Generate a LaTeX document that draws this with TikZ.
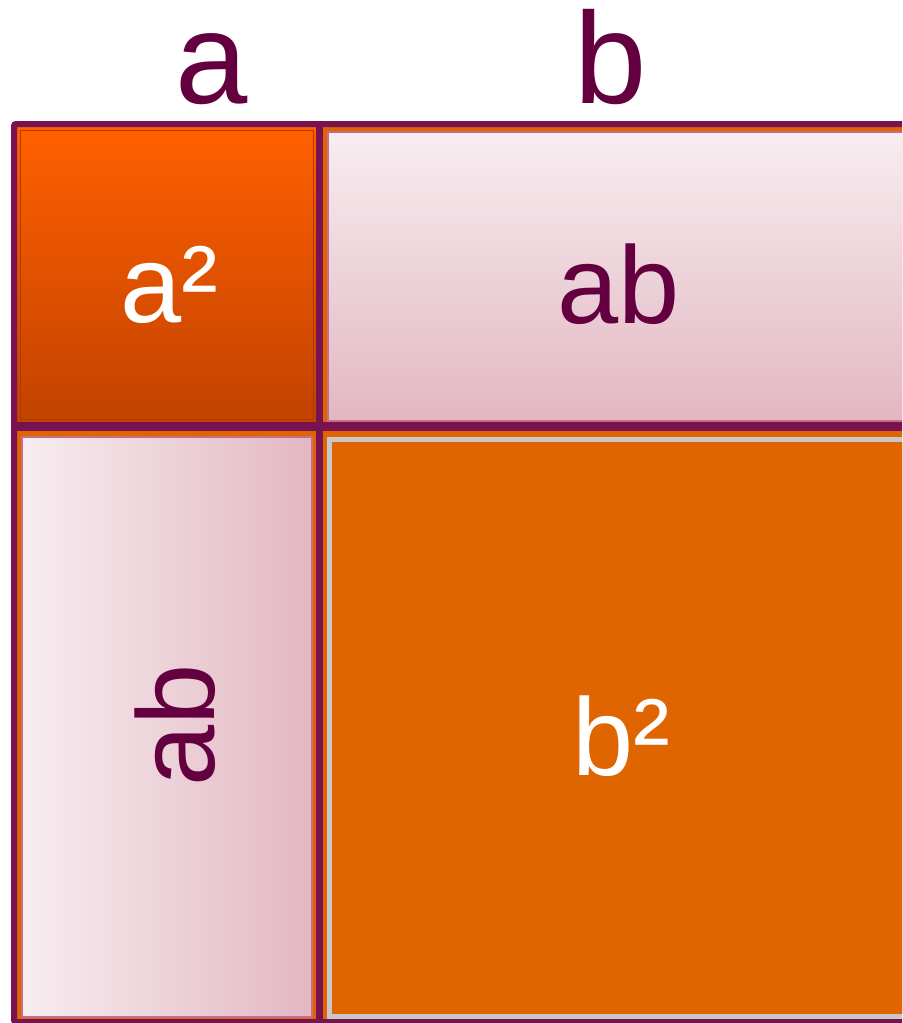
\documentclass[tikz,border=0pt]{standalone}
\usepackage{fontspec}
\setmainfont{Liberation Sans}
\usepackage{tikz}
\usetikzlibrary{positioning, calc}

\definecolor{aubergine}{RGB}{120,18,80}
\definecolor{txtpurple}{RGB}{100,0,64}
\definecolor{cellorange}{RGB}{224,100,0}
\definecolor{sqtop}{RGB}{255,96,0}
\definecolor{sqbottom}{RGB}{194,66,0}
\definecolor{pinklight}{RGB}{247,237,240}
\definecolor{pinkdark}{RGB}{227,183,194}
\definecolor{pinkedge}{RGB}{196,110,135}
\definecolor{greyedge}{RGB}{200,200,200}

\begin{document}
\begin{tikzpicture}[x=0.5pt, y=-0.5pt,
    lbl/.style={text=txtpurple, font=\fontsize{65}{70}\selectfont, inner sep=0pt, anchor=base},
    area/.style={font=\fontsize{55}{60}\selectfont, inner sep=0pt, anchor=base},
    grid/.style={aubergine, line width=3pt}]
    \path[use as bounding box] (0,0) rectangle (902,1023);
    \clip (0,0) rectangle (902,1023);

    % Orange backgrounds of the four cells
    \fill[cellorange] (17,127) rectangle (316,422);
    \fill[cellorange] (322,127) rectangle (910,422);
    \fill[cellorange] (17,431) rectangle (316,1020);
    \fill[cellorange] (322,431) rectangle (910,1020);

    % a^2 square
    \shade[top color=sqtop, bottom color=sqbottom] (17,127) rectangle (316,422);
    \draw[sqbottom!90!black, line width=0.5pt] (20,130) rectangle (313,419);

    % ab rectangles
    \shade[top color=pinklight, bottom color=pinkdark, draw=pinkedge, line width=0.6pt]
        (328,132) rectangle (910,421);
    \shade[left color=pinklight, right color=pinkdark, draw=pinkedge, line width=0.6pt]
        (22,437) rectangle (312,1017);

    % b^2 square
    \fill[greyedge] (327,437) rectangle (910,1019);
    \fill[cellorange] (332,442) rectangle (910,1014);

    % Frame
    \draw[grid, rounded corners=1pt] (14,124) rectangle (910,1022);
    \draw[aubergine, line width=3.5pt] (319,124) -- (319,1023);
    \draw[aubergine, line width=4.5pt] (14,426.5) -- (910,426.5);

    % Labels
    \node[lbl] (sideA) at (212,103) {a};
    \node[lbl] (sideB) at (611,103) {b};
    \node[area, text=white] (sqA) at (169,322) {a²};
    \node[area, text=txtpurple] (rectTop) at (619,323) {ab};
    \node[area, text=txtpurple, rotate=90] (rectLeft) at (214,725) {ab};
    \node[area, text=white] (sqB) at (621,775) {b²};
\end{tikzpicture}
\end{document}
